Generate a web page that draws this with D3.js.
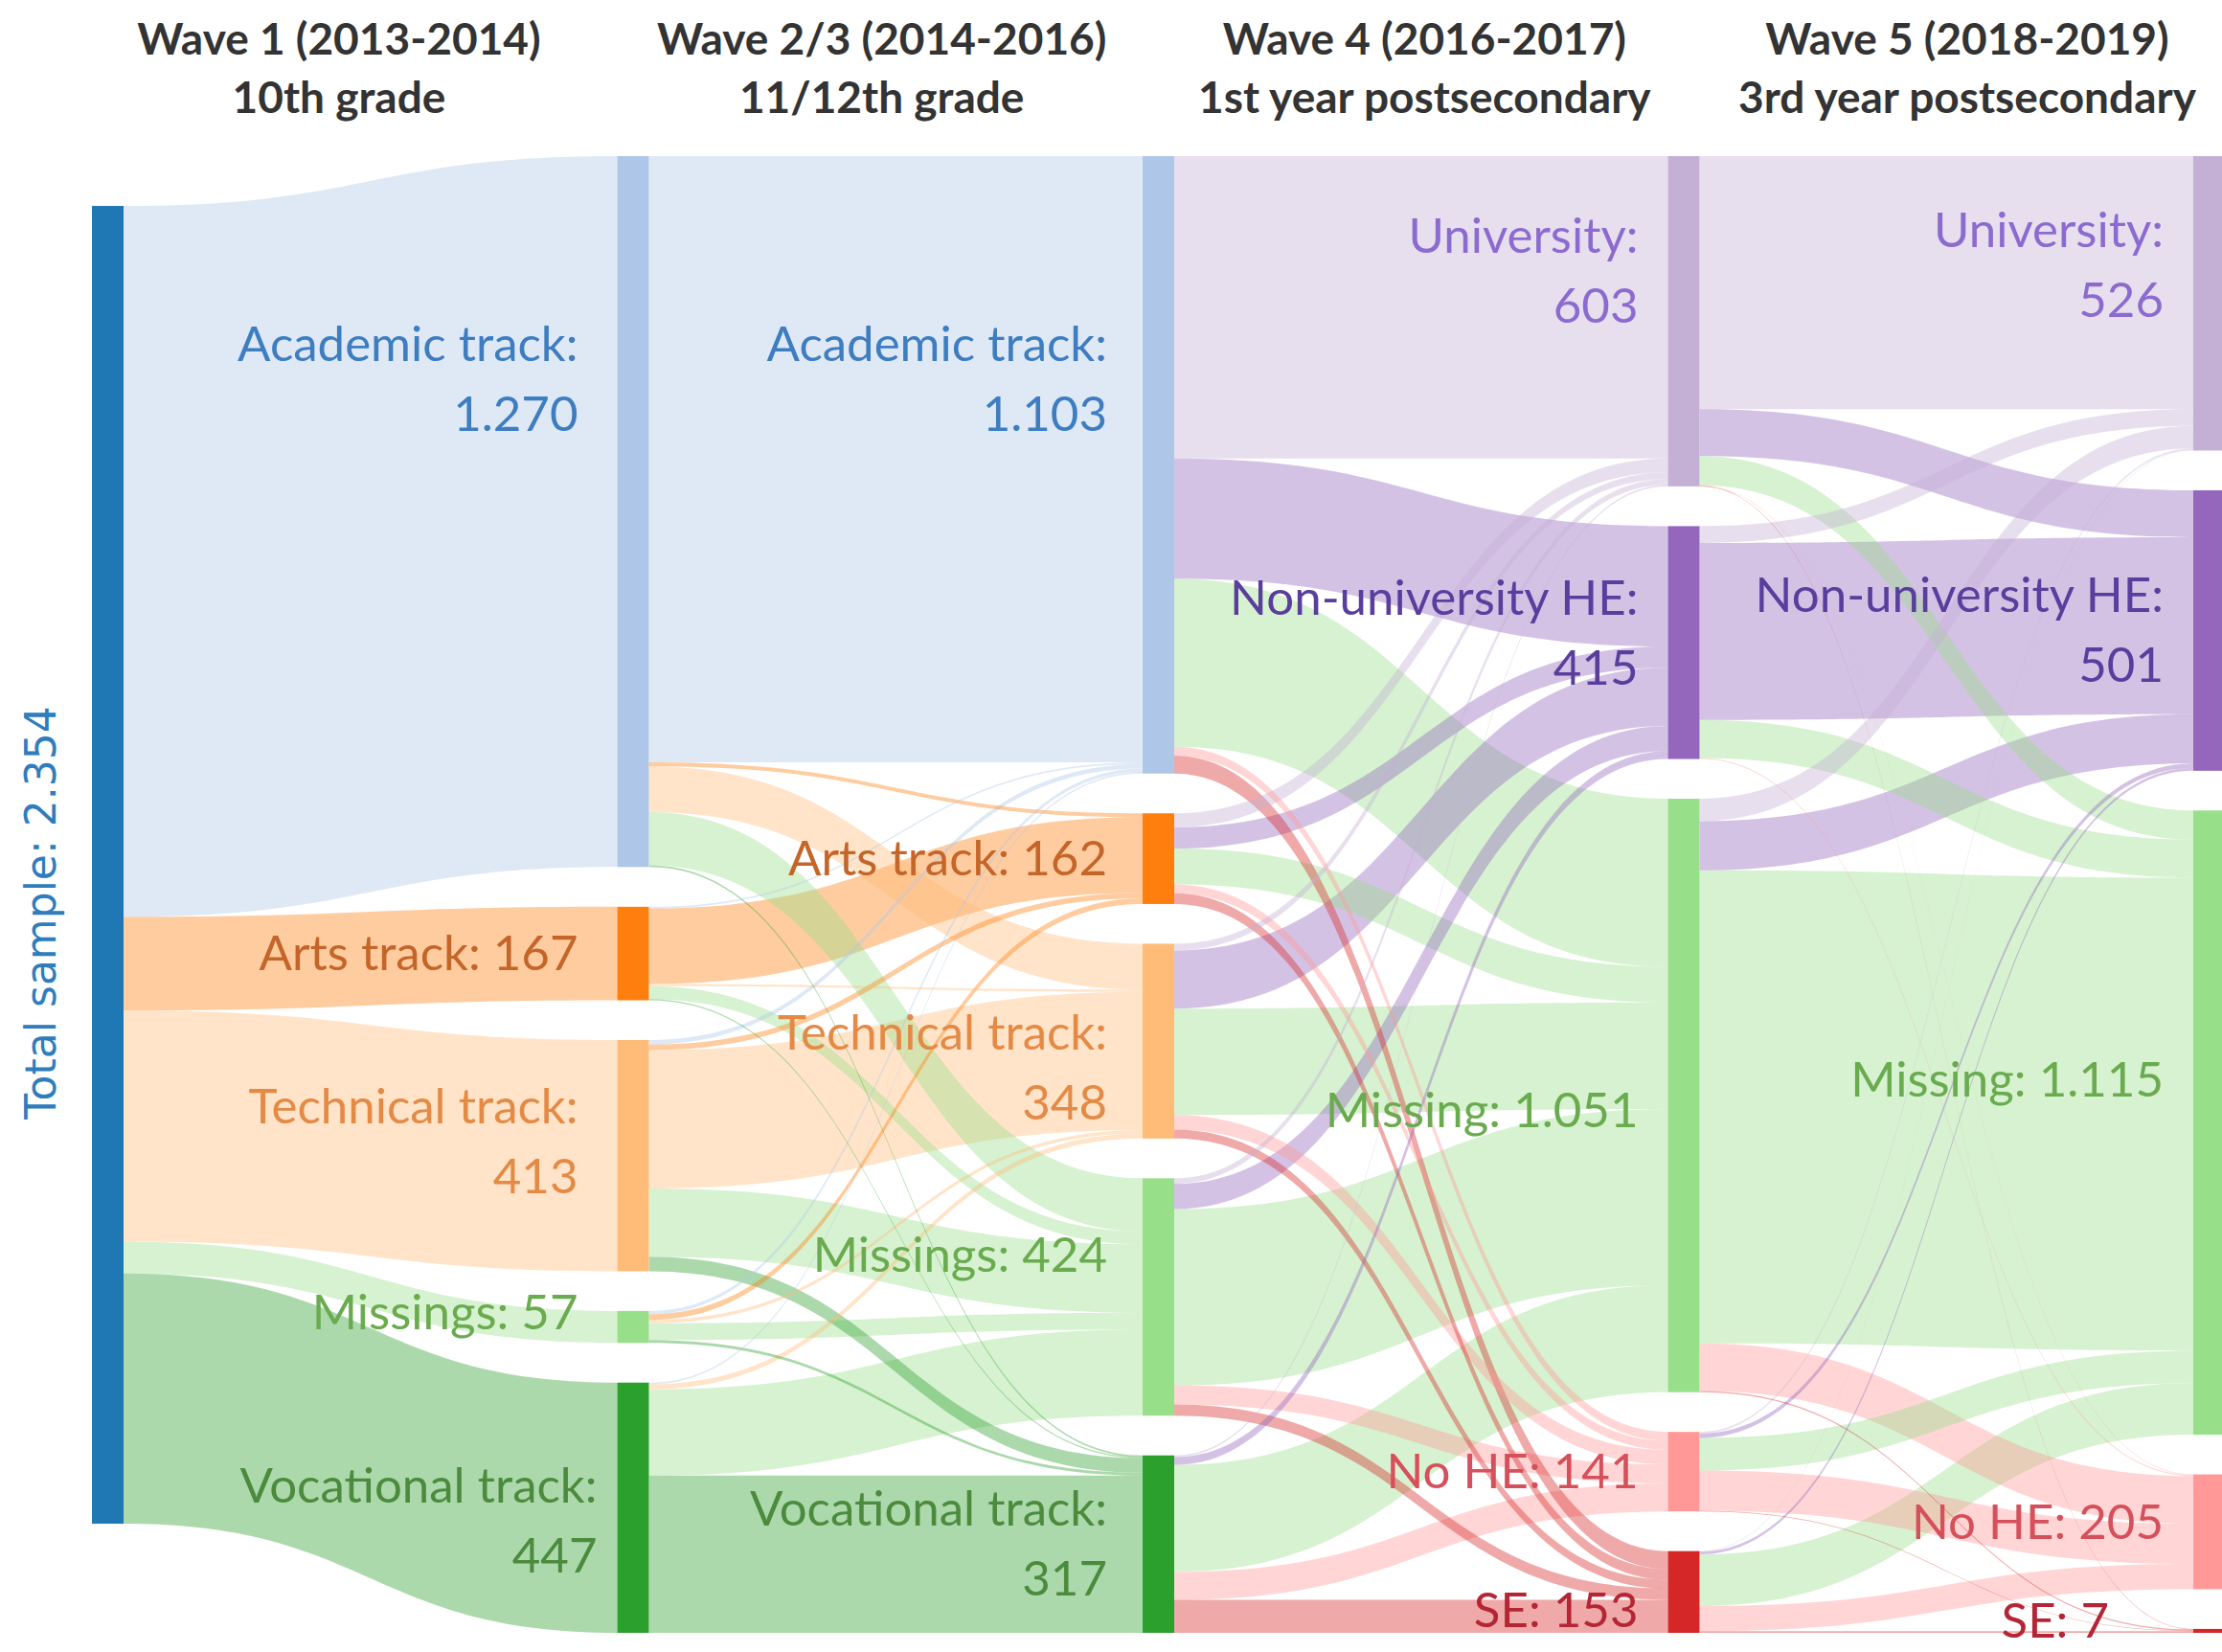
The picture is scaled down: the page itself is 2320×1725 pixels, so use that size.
<!DOCTYPE html>
<html>
<head>
<meta charset="utf-8">
<script src="https://cdn.jsdelivr.net/npm/d3@7"></script>
<style>
  html, body { margin: 0; padding: 0; background: #fff; }
  svg { display: block; }
</style>
</head>
<body>
<svg id="chart"></svg>
<script>
// wave headers
var waveTitles = ["Wave 1 (2013-2014)", "Wave 2/3 (2014-2016)", "Wave 4 (2016-2017)", "Wave 5 (2018-2019)"];
var waveStages = ["10th grade", "11/12th grade", "1st year postsecondary", "3rd year postsecondary"];

// node categories and printed counts
var totalSample = 2354;
var wave1Tracks = ["Academic track", "Arts track", "Technical track", "Missings", "Vocational track"];
var wave1Counts = [1270, 167, 413, 57, 447];
var wave23Tracks = ["Academic track", "Arts track", "Technical track", "Missings", "Vocational track"];
var wave23Counts = [1103, 162, 348, 424, 317];
var wave4Status = ["University", "Non-university HE", "Missing", "No HE", "SE"];
var wave4Counts = [603, 415, 1051, 141, 153];
var wave5Status = ["University", "Non-university HE", "Missing", "No HE", "SE"];
var wave5Counts = [526, 501, 1115, 205, 7];

// flows: rows = source node, columns = target node
var flowsW1toW23 = [
  [1083,   7,  82,  95,   3],
  [   3, 135,   4,  23,   2],
  [   8,  10, 247, 122,  26],
  [   6,  10,   6,  30,   5],
  [   3,   0,   9, 154, 281]
];
var flowsW23toW4 = [
  [540, 215, 300, 16, 32],
  [ 25,  38,  64, 16, 19],
  [ 12, 104, 190, 26, 16],
  [ 10,  45, 315, 34, 20],
  [  3,  14, 191, 50, 59]
];
var flowsW4toW5 = [
  [452,  84,  52,  1, 1],
  [ 30, 316,  68,  2, 0],
  [ 40,  88, 845, 85, 2],
  [  3,   8,  58, 72, 1],
  [  1,   5,  92, 45, 3]
];

// styling
var width = 2320, height = 1725;
var trackFill = ["#aec7e8", "#ff7f0e", "#ffbb78", "#98df8a", "#2ca02c"];
var statusFill = ["#c5b0d5", "#9467bd", "#98df8a", "#ff9896", "#d62728"];
var trackText = ["#3d7dc0", "#c4652a", "#e48a45", "#6aab4f", "#4c8b3d"];
var statusText = ["#8c6bd0", "#5a3e9e", "#6aab4f", "#d6505c", "#b42535"];
var totalFill = "#1f77b4";
var nodeWidth = 33, nodeGap = 41.5, yTop = 163, yBottom = 1705;
var labelGap = [0, 41, 37, 31, 31];
var twoLine = ["Academic track", "Technical track", "Vocational track", "University", "Non-university HE"];
// hand placed label nudges [dx, dy], as in the original
var labelNudge = {
  "1-0": [0, -138], "1-2": [0, -15], "1-3": [0, -15], "1-4": [20, 14],
  "2-0": [0, -89], "2-2": [0, 28], "2-3": [0, -43],
  "3-0": [0, -52], "3-1": [0, -10], "3-2": [0, 16], "3-4": [0, 20],
  "4-0": [0, -40], "4-2": [0, -44], "4-3": [0, -9], "4-4": [-57, -10]
};

var fmt = d3.formatLocale({decimal: ",", thousands: ".", grouping: [3], currency: ["", ""]}).format(",");

var svg = d3.select("#chart")
  .attr("width", width)
  .attr("height", height);

// columns of nodes
var columns = [
  {names: ["Total sample"], counts: [totalSample], fill: [totalFill], text: [totalFill]},
  {names: wave1Tracks, counts: wave1Counts, fill: trackFill, text: trackText},
  {names: wave23Tracks, counts: wave23Counts, fill: trackFill, text: trackText},
  {names: wave4Status, counts: wave4Counts, fill: statusFill, text: statusText},
  {names: wave5Status, counts: wave5Counts, fill: statusFill, text: statusText}
];
var transitions = [[wave1Counts], flowsW1toW23, flowsW23toW4, flowsW4toW5];

var colX = d3.scaleLinear().domain([0, 4]).range([96, 2290]);

// node values = max(inflow, outflow)
columns.forEach(function(col, c) {
  col.nodes = col.names.map(function(name, i) {
    var inV = c > 0 ? d3.sum(transitions[c - 1], function(row) { return row[i]; }) : 0;
    var outV = c < transitions.length ? d3.sum(transitions[c][i]) : 0;
    return {col: c, idx: i, name: name, count: col.counts[i], value: Math.max(inV, outV),
      fill: col.fill[i], text: col.text[i], x0: colX(c), x1: colX(c) + nodeWidth};
  });
});

var maxTotal = d3.max(columns.slice(1), function(col) { return d3.sum(col.nodes, function(n) { return n.value; }); });
var vy = d3.scaleLinear().domain([0, maxTotal]).range([0, (yBottom - yTop) - nodeGap * 4]);

columns.slice(1).forEach(function(col) {
  var y = yTop;
  col.nodes.forEach(function(n) {
    n.y0 = y;
    n.y1 = y + vy(n.value);
    y = n.y1 + nodeGap;
  });
});

// first node sits at the weighted centre of its targets
var root = columns[0].nodes[0];
var rootCenter = d3.sum(columns[1].nodes, function(n) { return n.value * (n.y0 + n.y1) / 2; }) /
  d3.sum(columns[1].nodes, function(n) { return n.value; });
root.y0 = rootCenter - vy(root.value) / 2;
root.y1 = rootCenter + vy(root.value) / 2;

// links
var links = [];
transitions.forEach(function(matrix, c) {
  var srcs = columns[c].nodes, tgts = columns[c + 1].nodes;
  var made = [];
  matrix.forEach(function(row, i) {
    row.forEach(function(v, j) {
      if (v > 0) made.push({source: srcs[i], target: tgts[j], value: v, i: i, j: j});
    });
  });
  srcs.forEach(function(s, i) {
    var y = s.y0;
    made.filter(function(l) { return l.i === i; }).forEach(function(l) {
      l.sy0 = y; y += vy(l.value); l.sy1 = y;
    });
  });
  tgts.forEach(function(t, j) {
    var y = t.y0;
    made.filter(function(l) { return l.j === j; }).forEach(function(l) {
      l.ty0 = y; y += vy(l.value); l.ty1 = y;
    });
  });
  links = links.concat(made);
});

function bandPath(d) {
  var x0 = d.source.x1, x1 = d.target.x0, xm = (x0 + x1) / 2;
  var p = d3.path();
  p.moveTo(x0, d.sy0);
  p.bezierCurveTo(xm, d.sy0, xm, d.ty0, x1, d.ty0);
  p.lineTo(x1, d.ty1);
  p.bezierCurveTo(xm, d.ty1, xm, d.sy1, x0, d.sy1);
  p.closePath();
  return p.toString();
}

links.sort(function(a, b) { return b.value - a.value; });

svg.append("g")
  .attr("class", "links")
  .selectAll("path")
  .data(links)
  .enter().append("path")
    .attr("d", bandPath)
    .style("fill", function(d) { return d.target.fill; })
    .style("fill-opacity", 0.4);

var allNodes = d3.merge(columns.map(function(col) { return col.nodes; }));

svg.append("g")
  .attr("class", "nodes")
  .selectAll("rect")
  .data(allNodes)
  .enter().append("rect")
    .attr("x", function(d) { return d.x0; })
    .attr("y", function(d) { return d.y0; })
    .attr("width", nodeWidth)
    .attr("height", function(d) { return Math.max(d.y1 - d.y0, 1); })
    .style("fill", function(d) { return d.fill; });

// node labels
svg.append("g")
  .attr("class", "labels")
  .style("font-family", "Lato, 'Open Sans', sans-serif")
  .style("font-size", "51px")
  .attr("text-anchor", "end")
  .selectAll("text")
  .data(allNodes.filter(function(d) { return d.col > 0; }))
  .enter().append("text")
    .style("fill", function(d) { return d.text; })
    .each(function(d) {
      var nudge = labelNudge[d.col + "-" + d.idx] || [0, 0];
      var x = d.x0 - labelGap[d.col] + nudge[0];
      var cy = (d.y0 + d.y1) / 2 + nudge[1];
      var t = d3.select(this);
      if (twoLine.indexOf(d.name) >= 0) {
        t.append("tspan").attr("x", x).attr("y", cy - 19).text(d.name + ":");
        t.append("tspan").attr("x", x).attr("y", cy + 54).text(fmt(d.count));
      } else {
        t.append("tspan").attr("x", x).attr("y", cy + 17).text(d.name + ": " + fmt(d.count));
      }
    });

// vertical label for the total sample
svg.append("text")
  .attr("transform", "translate(58," + ((root.y0 + root.y1) / 2 + 50) + ") rotate(-90)")
  .attr("text-anchor", "middle")
  .style("font-family", "'DejaVu Sans', sans-serif")
  .style("font-size", "44px")
  .style("fill", "#2f7dbd")
  .text("Total sample: " + fmt(totalSample));

// wave headers
var headX = d3.scaleLinear().domain([0, 3]).range([354, 2054]);
var heads = svg.append("g")
  .attr("class", "headers")
  .attr("text-anchor", "middle")
  .style("font-family", "Lato, 'Open Sans', sans-serif")
  .style("font-weight", "bold")
  .style("font-size", "46px")
  .style("fill", "#333333");

heads.selectAll("text.title")
  .data(waveTitles)
  .enter().append("text")
    .attr("class", "title")
    .attr("x", function(d, i) { return headX(i); })
    .attr("y", 57)
    .text(function(d) { return d; });

heads.selectAll("text.stage")
  .data(waveStages)
  .enter().append("text")
    .attr("class", "stage")
    .attr("x", function(d, i) { return headX(i); })
    .attr("y", 118)
    .text(function(d) { return d; });
</script>
</body>
</html>
